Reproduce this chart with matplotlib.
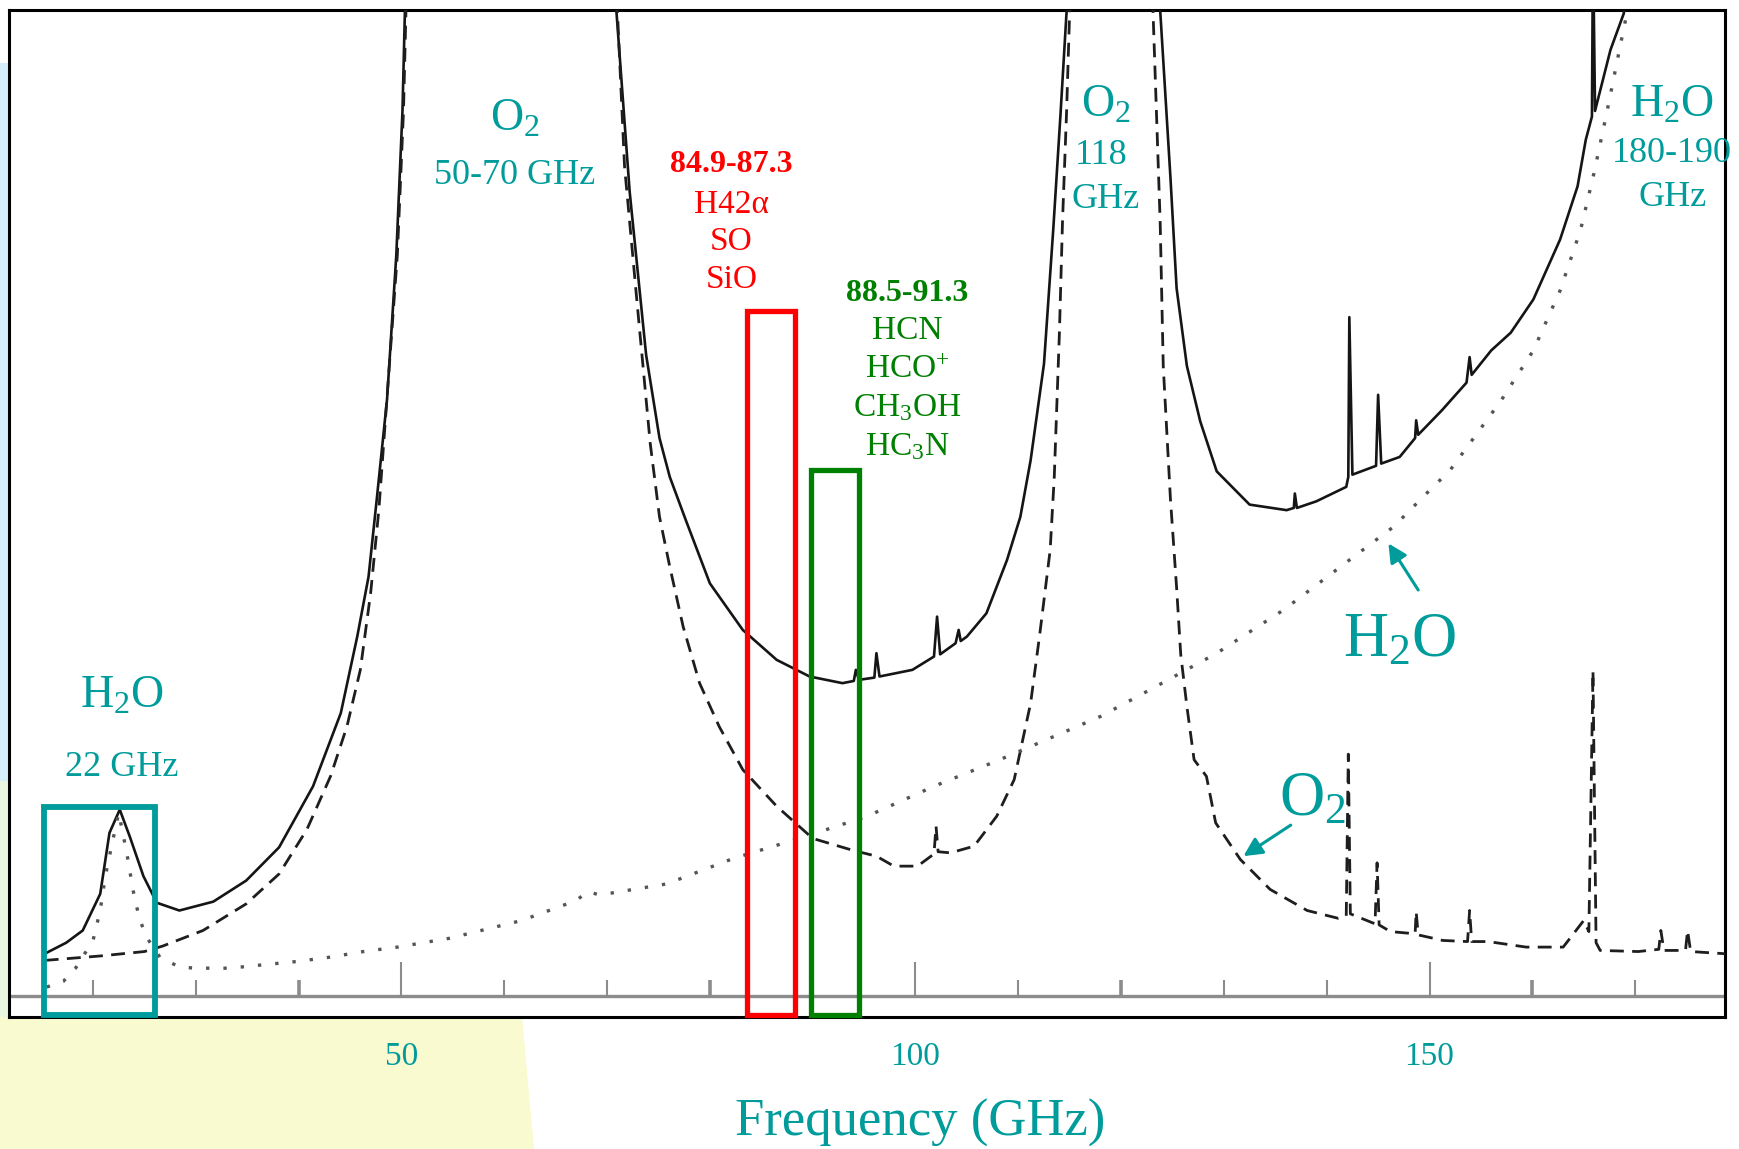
import numpy as np
import matplotlib
matplotlib.use("Agg")
import matplotlib.pyplot as plt
from matplotlib.patches import Rectangle, Polygon

plt.rcParams["font.family"] = ["Liberation Serif", "DejaVu Serif"]
plt.rcParams["mathtext.fontset"] = "custom"
plt.rcParams["mathtext.rm"] = "Liberation Serif"
plt.rcParams["mathtext.it"] = "Liberation Serif:italic"
plt.rcParams["mathtext.bf"] = "Liberation Serif:bold"

nan = np.nan

# (frequency GHz, opacity arb. units); values above ~89 run off the top
total_pts = [
    (15.3, 3.8), (17.4, 4.8), (19.0, 5.9), (20.7, 9.2), (21.6, 14.7), (22.6, 16.8),
    (23.6, 14.3), (24.9, 10.8), (26.2, 8.4), (28.4, 7.7), (31.7, 8.5), (34.9, 10.4),
    (38.1, 13.4), (41.4, 18.9), (44.1, 25.5), (45.7, 32.4), (46.8, 37.8), (47.6, 44.8),
    (48.6, 53.8), (49.5, 66.8), (50.1, 79.8), (50.5, 95.0),
    (nan, nan),
    (70.6, 95.0), (70.9, 88.9), (72.2, 72.5), (73.8, 57.8), (75.1, 50.3), (76.1, 46.8),
    (77.7, 42.8), (80.0, 37.2), (83.2, 33.0), (86.5, 30.3), (89.7, 28.8), (92.9, 28.2),
    (94.0, 28.4), (94.2, 29.4), (94.5, 28.5), (96.0, 28.7), (96.2, 30.9), (96.5, 28.8),
    (99.7, 29.4), (101.8, 30.6), (102.1, 34.2), (102.4, 30.8), (103.9, 31.8), (104.2, 33.0),
    (104.4, 32.0), (105.0, 32.4), (106.9, 34.5), (108.9, 39.3), (110.2, 43.2), (111.2, 48.3),
    (112.5, 57.0), (113.4, 69.1), (114.1, 79.4), (114.7, 88.8), (114.9, 95.0),
    (nan, nan),
    (123.6, 95.0), (123.8, 88.9), (124.8, 73.8), (125.4, 63.8), (126.4, 56.8), (127.7, 51.8),
    (129.3, 47.3), (132.5, 44.3), (136.1, 43.8), (136.8, 44.0), (136.9, 45.3), (137.1, 44.0),
    (139.0, 44.6), (141.9, 45.9), (142.1, 46.8), (142.2, 61.2), (142.5, 47.0), (144.8, 47.8),
    (145.0, 54.2), (145.3, 48.0), (147.1, 48.6), (148.6, 50.3), (148.7, 51.9), (148.9, 50.6),
    (151.2, 52.8), (153.6, 55.3), (153.9, 57.6), (154.1, 56.0), (156.0, 58.2), (157.9, 59.8),
    (160.1, 62.8), (162.7, 68.2), (164.4, 73.0), (165.2, 77.2), (165.8, 79.3), (165.9, 95.0),
    (166.1, 79.8), (167.6, 85.3), (168.9, 88.6), (169.2, 95.0),
]

o2_pts = [
    (15.3, 3.2), (20.7, 3.6), (25.0, 4.0), (26.8, 4.5), (30.7, 5.9), (34.9, 8.3),
    (38.1, 11.0), (40.8, 15.0), (43.1, 19.8), (44.7, 24.3), (46.0, 29.4), (47.0, 36.3),
    (47.8, 43.8), (48.7, 55.3), (49.6, 66.8), (50.2, 79.8), (50.6, 95.0),
    (nan, nan),
    (70.8, 95.0), (71.0, 88.9), (71.7, 74.8), (72.9, 62.7), (74.2, 49.8), (75.1, 43.2),
    (76.1, 38.7), (77.4, 33.3), (79.0, 28.2), (80.9, 24.3), (83.2, 20.4), (86.5, 17.1),
    (90.0, 14.2), (94.0, 13.1), (96.2, 12.6), (97.9, 11.7), (100.2, 11.7), (101.8, 12.8),
    (102.0, 15.3), (102.2, 13.0), (103.4, 12.9), (105.7, 13.5), (107.9, 16.2), (109.6, 19.5),
    (111.2, 26.4), (112.1, 32.7), (113.1, 40.2), (113.5, 46.8), (114.0, 59.8), (114.3, 69.8),
    (114.7, 79.8), (115.0, 88.9), (115.2, 95.0),
    (nan, nan),
    (122.7, 95.0), (123.1, 88.9), (123.8, 69.8), (124.1, 56.8), (124.8, 44.8), (125.4, 36.8),
    (125.8, 30.8), (126.4, 26.1), (127.1, 21.3), (128.3, 19.8), (129.2, 15.6), (131.6, 12.3),
    (134.5, 9.6), (138.1, 7.7), (141.1, 7.0), (141.9, 7.2), (142.1, 21.8), (142.3, 7.4),
    (144.7, 6.5), (144.9, 12.0), (145.1, 6.4), (146.2, 5.8), (148.6, 5.6), (148.7, 7.6),
    (148.9, 5.5), (151.3, 5.0), (153.7, 4.9), (153.9, 7.7), (154.1, 4.9), (155.7, 4.9),
    (159.4, 4.4), (163.0, 4.4), (165.0, 6.8), (165.5, 5.8), (165.9, 29.3), (166.2, 4.8),
    (166.6, 4.1), (170.3, 4.0), (172.3, 4.2), (172.5, 5.9), (172.8, 4.1), (174.9, 4.1),
    (175.1, 5.9), (175.4, 4.0), (178.8, 3.8),
]

h2o_pts = [
    (15.5, 0.8), (17.1, 1.3), (18.3, 2.5), (20.0, 5.0), (20.7, 7.7), (21.2, 10.8),
    (21.8, 13.5), (22.5, 16.5), (23.3, 12.8), (23.9, 9.5), (24.5, 7.0), (25.2, 5.3),
    (26.5, 3.5), (28.4, 2.6), (30.0, 2.5), (33.3, 2.5), (36.5, 2.8), (39.8, 3.1),
    (43.1, 3.5), (46.3, 4.0), (49.6, 4.4), (54.7, 5.2), (61.7, 6.8), (67.0, 8.6),
    (68.1, 9.4), (69.3, 9.1), (75.8, 10.1), (82.3, 12.4), (88.7, 14.2), (95.3, 16.2),
    (101.8, 18.9), (108.2, 21.3), (118.0, 25.2), (122.8, 27.6), (129.3, 30.9), (135.8, 34.8),
    (142.2, 39.3), (146.5, 42.3), (149.7, 45.3), (152.0, 47.4), (156.9, 53.6), (160.1, 58.2),
    (162.7, 63.6), (164.7, 69.1), (166.0, 74.2), (167.3, 79.9), (168.6, 85.9), (169.2, 88.6),
    (169.5, 95.0),
]

tick_freqs = [20, 30, 40, 50, 60, 70, 80, 90, 100, 110, 120, 130, 140, 150, 160, 170]
major_freqs = [50, 100, 150]

# highlighted bands: (low GHz, high GHz, top)
h2o_box = (15.24, 26.03, 17.0)
red_box = (83.65, 88.28, 61.8)
green_box = (89.85, 94.51, 47.4)

TEAL = "#009b9b"
RED = "#ff0000"
GREEN = "#008000"

fig = plt.figure(figsize=(17.39, 11.49), dpi=100)

# slide background pieces
fig.add_artist(Polygon([(0, 0), (0.3071, 0), (0.3002, 0.1149), (0, 0.1149)],
                       closed=True, transform=fig.transFigure, facecolor="#fafad0",
                       edgecolor="none", zorder=0))
fig.add_artist(Rectangle((0, 0.32), 0.0046, 0.625, transform=fig.transFigure,
                         facecolor="#d4eefa", edgecolor="none", zorder=0))
fig.add_artist(Rectangle((0, 0.1149), 0.0046, 0.2051, transform=fig.transFigure,
                         facecolor="#e8f6e2", edgecolor="none", zorder=0))

ax = fig.add_axes([0.0049, 0.1151, 0.9871, 0.8762])
ax.set_facecolor("white")
ax.set_xlim(11.78, 178.75)
ax.set_ylim(-1.88, 88.9)

tf, tv = np.array(total_pts).T
of, ov = np.array(o2_pts).T
hf, hv = np.array(h2o_pts).T
ax.plot(tf, tv, color="#151515", lw=1.9, zorder=3)
ax.plot(of, ov, color="#1e1e1e", lw=2.0, ls=(0, (5, 3)), zorder=3)
ax.plot(hf, hv, color="#555555", lw=2.4, ls=(0, (1, 4.2)), zorder=3)

# scanned inner frequency axis
ax.axhline(0, color="#8c8c8c", lw=2.4, zorder=2)
for f in tick_freqs:
    top = 3.1 if f in major_freqs else 1.4
    w = 2.6 if f in (40, 80, 120, 160) else 1.5
    ax.plot([f, f], [0, top], color="#8c8c8c", lw=w, zorder=2, solid_capstyle="butt")

ax.set_yticks([])
ax.set_xticks(major_freqs)
ax.set_xticklabels([str(m) for m in major_freqs])
ax.tick_params(axis="x", length=0, pad=18, labelsize=24, labelcolor=TEAL)
for s in ax.spines.values():
    s.set_linewidth(2.2)
    s.set_color("black")
ax.set_xlabel("Frequency (GHz)", fontsize=38, color=TEAL)
ax.xaxis.set_label_coords(0.531, -0.105)
ax.xaxis.label.set_va("center")

# band boxes
for (lo, hi, top), col, lw in [(h2o_box, TEAL, 4.2), (red_box, RED, 3.8), (green_box, GREEN, 3.8)]:
    ax.add_patch(Rectangle((lo, -1.7), hi - lo, top + 1.7, fill=False, edgecolor=col,
                           lw=lw, zorder=4, clip_on=False))

# species labels
def label(x, y, s, size, color=TEAL, weight="normal"):
    ax.text(x, y, s, fontsize=size, color=color, ha="center", va="center",
            fontweight=weight, zorder=5)

label(61.0, 79.0, "O$_2$", 33)
label(61.0, 74.0, "50-70 GHz", 26)
label(22.8, 27.0, "H$_2$O", 33)
label(22.8, 20.6, "22 GHz", 26)
label(118.5, 80.3, "O$_2$", 33)
label(118.1, 75.8, "118", 26)
label(118.5, 71.8, "GHz", 26)
label(173.6, 80.3, "H$_2$O", 33)
label(173.6, 76.0, "180-190", 26)
label(173.6, 72.0, "GHz", 26)

label(82.1, 75.0, "84.9-87.3", 23, RED, "bold")
label(82.1, 71.3, "H42α", 24, RED)
label(82.1, 68.0, "SO", 24, RED)
label(82.1, 64.6, "SiO", 24, RED)

label(99.2, 63.3, "88.5-91.3", 23, GREEN, "bold")
label(99.2, 60.0, "HCN", 24, GREEN)
label(99.2, 56.5, "HCO$^{+}$", 24, GREEN)
label(99.2, 53.0, "CH$_3$OH", 24, GREEN)
label(99.2, 49.5, "HC$_3$N", 24, GREEN)

label(147.1, 32.0, "H$_2$O", 45)
label(138.6, 17.6, "O$_2$", 45)
arrow = dict(arrowstyle="-|>", color=TEAL, lw=2.2, mutation_scale=28, shrinkA=0, shrinkB=0)
ax.annotate("", xy=(146.0, 40.8), xytext=(148.9, 36.6), arrowprops=arrow, zorder=5)
ax.annotate("", xy=(131.9, 12.6), xytext=(136.5, 15.4), arrowprops=arrow, zorder=5)

fig.savefig("out.png", dpi=100, facecolor="white")
